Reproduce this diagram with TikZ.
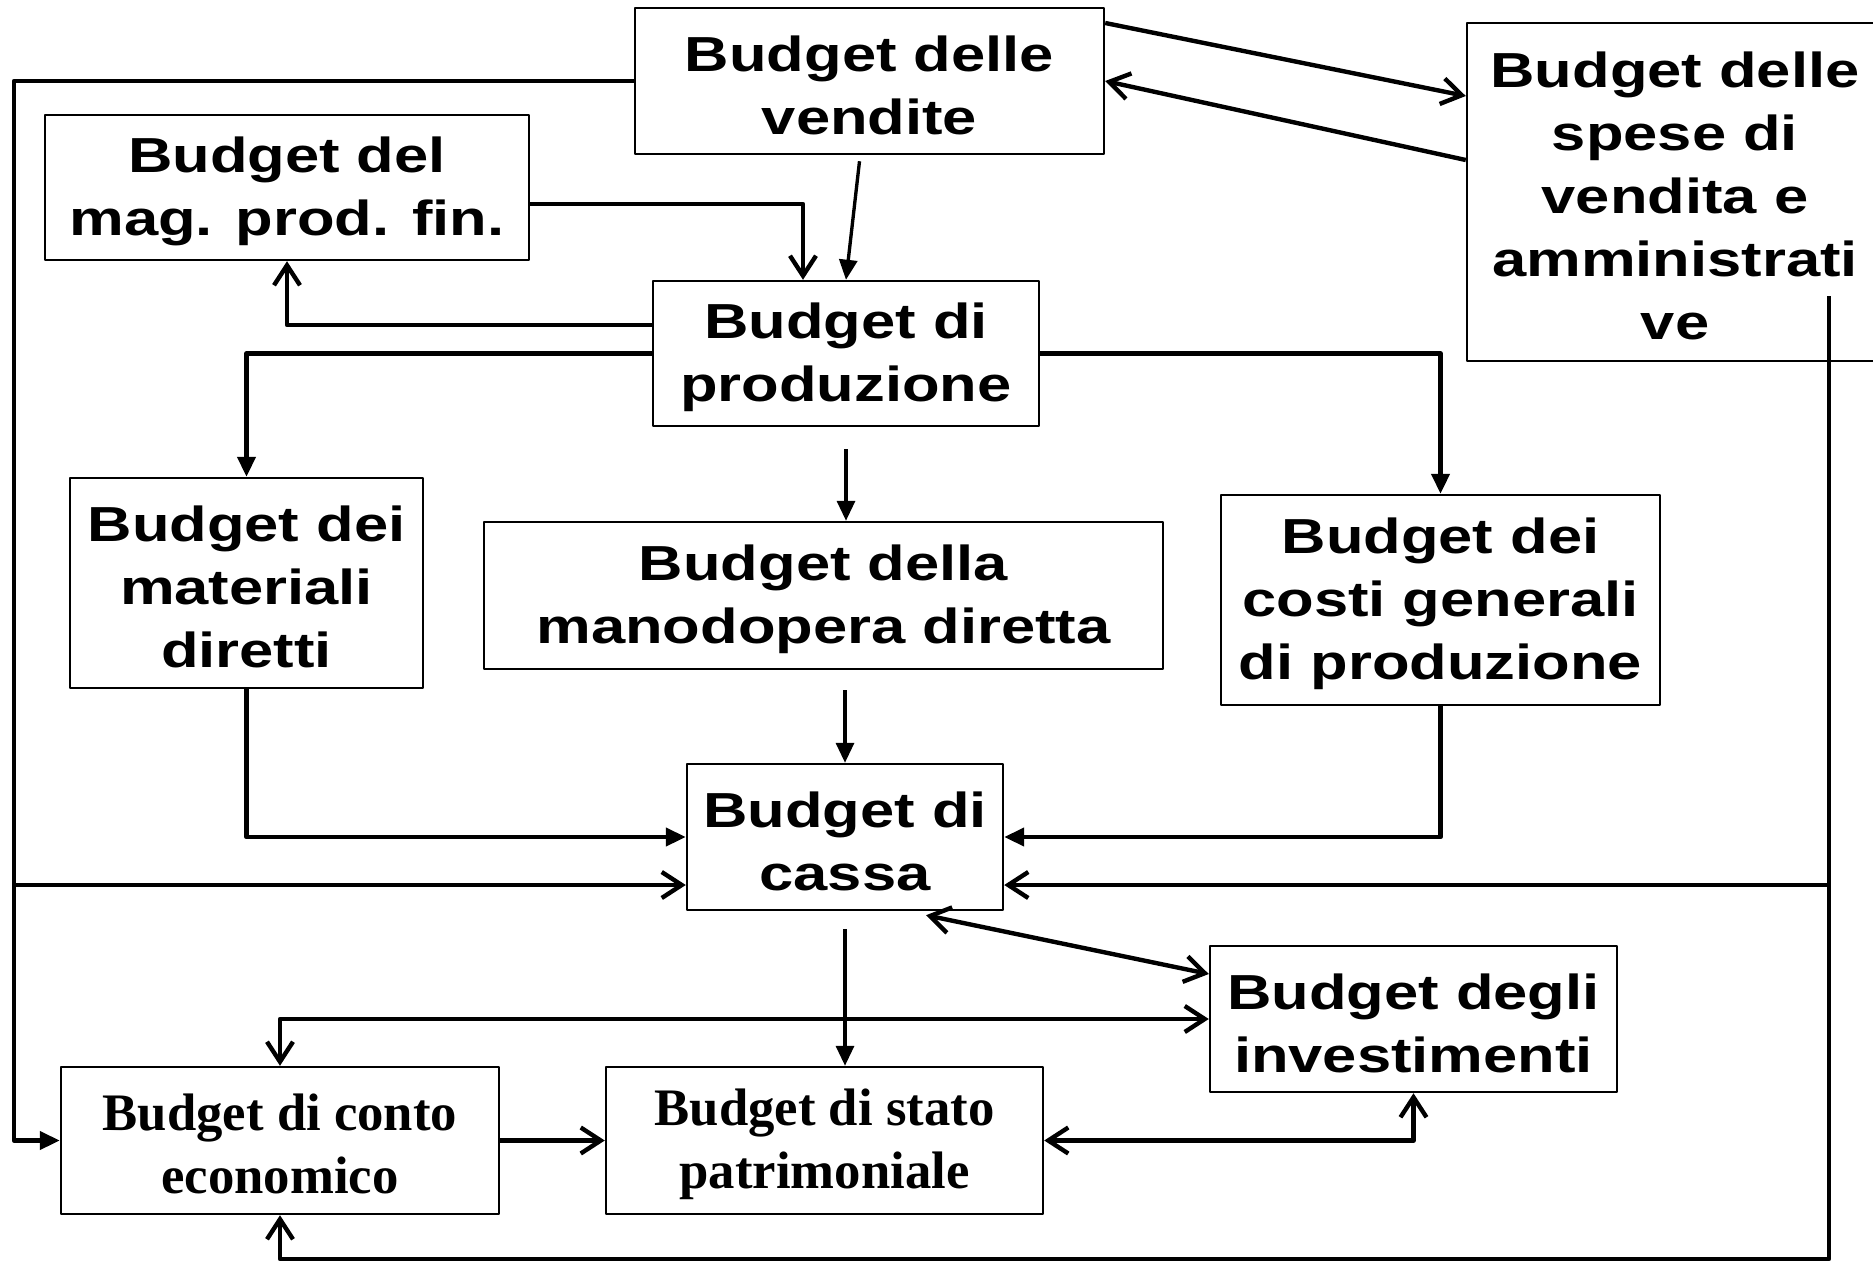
\documentclass[tikz,border=0pt]{standalone}
\usepackage{fontspec}
\setmainfont{Liberation Serif}
\newfontfamily\boxsans{Liberation Sans}[FakeStretch=1.25]
\usetikzlibrary{arrows.meta}
\tikzset{
  every picture/.style={line join=round},
  bbox/.style={draw, line width=0.7pt, inner sep=0pt, align=center,
    font=\boxsans\bfseries\fontsize{14}{17.9}\selectfont},
  sbox/.style={bbox, font=\rmfamily\bfseries\fontsize{15}{17.9}\selectfont},
  twoline/.style={text height=30.4pt},
  threeline/.style={text height=48.3pt},
  fiveline/.style={text height=84.1pt},
  link/.style={line width=1.25pt},
  thinlink/.style={line width=0.95pt},
  openhead/.style={link, -{Straight Barb[length=2mm,width=2.6mm]}},
  openboth/.style={link, {Straight Barb[length=2mm,width=2.6mm]}-{Straight Barb[length=2mm,width=2.6mm]}},
  fillhead/.style={link, -{Triangle[length=2mm,width=1.8mm]}},
  fillthin/.style={thinlink, -{Triangle[length=2mm,width=1.8mm]}},
}

\begin{document}
\begin{tikzpicture}
\useasboundingbox (0,0) rectangle (18.73,12.60);

\node[bbox, twoline, minimum width=4.69cm, minimum height=1.46cm] (vendite) at (8.695,11.79) {Budget delle\\vendite};
\node[bbox, fiveline, minimum width=4.16cm, minimum height=3.38cm] (spese) at (16.75,10.68) {Budget delle\\spese di\\vendita e\\amministrati\\ve};
\node[bbox, twoline, minimum width=4.84cm, minimum height=1.45cm] (magazzino) at (2.87,10.725) {Budget del\\mag. prod. fin.};
\node[bbox, twoline, minimum width=3.86cm, minimum height=1.45cm] (produzione) at (8.46,9.065) {Budget di\\produzione};
\node[bbox, threeline, minimum width=3.53cm, minimum height=2.10cm] (materiali) at (2.465,6.77) {Budget dei\\materiali\\diretti};
\node[bbox, twoline, minimum width=6.79cm, minimum height=1.47cm] (manodopera) at (8.235,6.645) {Budget della\\manodopera diretta};
\node[bbox, threeline, minimum width=4.39cm, minimum height=2.10cm] (costi) at (14.405,6.60) {Budget dei\\costi generali\\di produzione};
\node[bbox, twoline, minimum width=3.16cm, minimum height=1.46cm] (cassa) at (8.45,4.23) {Budget di\\cassa};
\node[bbox, twoline, minimum width=4.07cm, minimum height=1.46cm] (investimenti) at (14.135,2.41) {Budget degli\\investimenti};
\node[sbox, twoline, minimum width=4.38cm, minimum height=1.47cm] (conto) at (2.80,1.195) {Budget di conto\\economico};
\node[sbox, twoline, minimum width=4.37cm, minimum height=1.47cm] (stato) at (8.245,1.195) {Budget di stato\\patrimoniale};

\coordinate (lx) at (0.14,0);
\coordinate (jl) at (0.14,3.75);
\coordinate (jr) at (18.29,3.75);
\coordinate (rtop) at (18.29,9.64);
\coordinate (bot) at (0,0.01);

\draw[fillhead] (vendite.west) -- (vendite.west -| lx) -- (conto.west -| lx) -- (conto.west);
\draw[openhead] (jl) -- (cassa.west |- jl);
\draw[openhead] (rtop) -- (rtop |- bot) -| (conto.south);
\draw[openhead] (jr) -- (cassa.east |- jr);

\draw[openhead] ([yshift=5.8mm]vendite.east) -- ([yshift=9.6mm]spese.west);
\draw[openhead] ([yshift=3.2mm]spese.west) -- (vendite.east);
\draw[fillthin] ([xshift=-1mm,yshift=-0.6mm]vendite.south) -- (produzione.north);
\draw[openhead] ([yshift=-1.65mm]magazzino.east) -| ([xshift=-4.3mm]produzione.north);
\draw[openhead] ([yshift=2.85mm]produzione.west) -| (magazzino.south);
\draw[fillhead] (produzione.west) -| (materiali.north);
\draw[fillhead] (produzione.east) -| (costi.north);
\draw[fillthin] ([yshift=-2.2mm]produzione.south) -- (produzione.south |- manodopera.north);

\draw[fillhead] (materiali.south) |- (cassa.west);
\draw[fillhead] (costi.south) |- (cassa.east);
\draw[fillthin] ([yshift=-2mm]manodopera.south -| cassa.north) -- (cassa.north);

\draw[openboth] ([xshift=8.1mm,yshift=-0.4mm]cassa.south) -- ([yshift=4.5mm]investimenti.west);
\draw[fillthin] ([yshift=-1.8mm]cassa.south) -- (cassa.south |- stato.north);
\draw[openboth] (conto.north) |- (investimenti.west);
\draw[openhead] (conto.east) -- (stato.west);
\draw[openboth] (stato.east) -| (investimenti.south);
\end{tikzpicture}
\end{document}
